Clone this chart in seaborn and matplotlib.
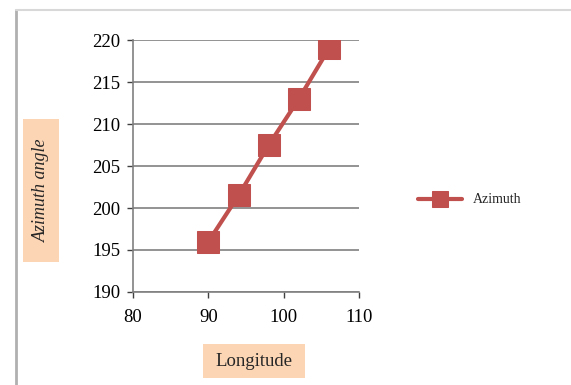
import numpy as np
import pandas as pd
import matplotlib
matplotlib.use("Agg")
import matplotlib.pyplot as plt
import seaborn as sns
from matplotlib.lines import Line2D
from matplotlib.patches import Rectangle

longitude = [90, 94, 98, 102, 106]
azimuth = [196, 201.5, 207.5, 213, 219]
x_ticks = [80, 90, 100, 110]
y_ticks = [190, 195, 200, 205, 210, 215, 220]

df = pd.DataFrame({"Longitude": longitude, "Azimuth": azimuth})

sns.set_theme(style="white")
plt.rcParams["font.family"] = ["Liberation Serif", "DejaVu Serif"]

red = "#c0504d"
peach = "#fcd5b5"
W, H = 571, 385

fig = plt.figure(figsize=(5.71, 3.85), dpi=100)
ax = fig.add_axes([0.233, 0.2416, 0.396, 0.6544])

sns.lineplot(data=df, x="Longitude", y="Azimuth", ax=ax, color=red, linewidth=3,
             marker="s", markersize=16, markeredgecolor=red, label="Azimuth")

ax.set_xlim(80, 110)
ax.set_ylim(190, 220)
ax.set_xticks(x_ticks)
ax.set_yticks(y_ticks)
ax.tick_params(axis="both", labelsize=13.5, colors="#404040", labelcolor="black")
ax.tick_params(axis="x", length=4, width=1, direction="out", bottom=True, pad=8)
ax.tick_params(axis="y", length=4, width=1, direction="out", left=True, pad=5)
ax.grid(axis="y", color="#808080", linewidth=1.2)
ax.set_axisbelow(True)
for s in ["top", "right"]:
    ax.spines[s].set_visible(False)
for s in ["left", "bottom"]:
    ax.spines[s].set_color("#808080")
    ax.spines[s].set_linewidth(1.2)
ax.set_xlabel("")
ax.set_ylabel("")


def shaded_box(x0, y0, x1, y1):
    # box given in pixel coords from the top-left corner
    fig.add_artist(Rectangle((x0 / W, 1 - y1 / H), (x1 - x0) / W, (y1 - y0) / H,
                             transform=fig.transFigure, facecolor=peach,
                             edgecolor="none", zorder=0))


shaded_box(23, 119, 59, 262)
shaded_box(203, 344, 305, 378)
fig.text(41 / W, 1 - 190 / H, "Azimuth angle", rotation=90, ha="center", va="center",
         fontsize=13, style="italic")
fig.text(254 / W, 1 - 361 / H, "Longitude", ha="center", va="center", fontsize=13.5)

ax.legend(loc="center left", bbox_to_anchor=(412 / W, 1 - 200 / H),
          bbox_transform=fig.transFigure, frameon=False, fontsize=10,
          handlelength=3.2, borderaxespad=0, markerscale=0.7)

# outer chart border
fig.add_artist(Line2D([16 / W, 16 / W], [0, 1 - 10 / H], transform=fig.transFigure,
                      color="#b0b0b0", linewidth=2))
fig.add_artist(Line2D([16 / W, 1], [1 - 10 / H, 1 - 10 / H], transform=fig.transFigure,
                      color="#d8d8d8", linewidth=1.5))

fig.savefig("out.png", dpi=100)
